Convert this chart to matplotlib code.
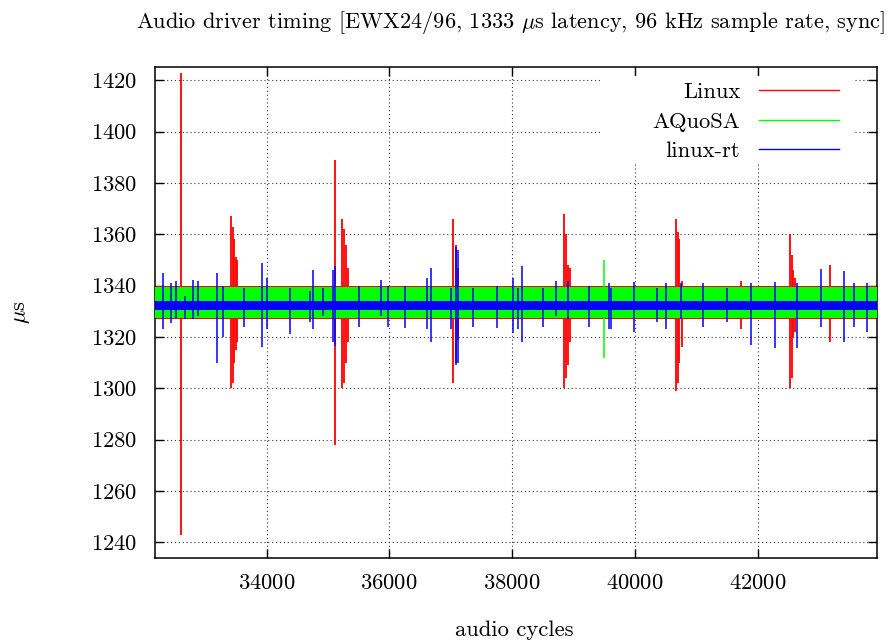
import matplotlib
matplotlib.use("Agg")
import matplotlib.pyplot as plt
from matplotlib.lines import Line2D
from matplotlib.patches import Rectangle

plt.rcParams['font.family'] = 'serif'
plt.rcParams['font.serif'] = ['cmr10', 'DejaVu Serif']
plt.rcParams['mathtext.fontset'] = 'cm'
plt.rcParams['axes.formatter.use_mathtext'] = True

# x range of the recording (audio cycles)
cycles = [32183, 43947]

# dense noise band of each trace (lower, upper), in microseconds
linux_band = [1327.2, 1339.9]
aquosa_band = [1327.6, 1339.5]
rt_band = [1330.7, 1334.0]

# isolated excursions: cycle, high, low
linux_x = [32607, 33422, 33446, 33471, 33503, 33520,
           35121, 35230, 35262, 35295, 35328,
           37043, 37087, 37120,
           38851, 38879, 38920, 38944,
           40671, 40703, 40728, 40769,
           41725,
           42528, 42557, 42585, 42609,
           43179]
linux_hi = [1423, 1367, 1363, 1358, 1351, 1350,
            1389, 1366, 1362, 1356, 1347,
            1366, 1356, 1347,
            1368, 1360, 1348, 1347,
            1366, 1361, 1358, 1342,
            1342,
            1360, 1352, 1346, 1343,
            1348]
linux_lo = [1243, 1300, 1302, 1310, 1315, 1318,
            1278, 1300, 1302, 1310, 1318,
            1302, 1310, 1319,
            1300, 1304, 1309, 1318,
            1299, 1302, 1310, 1316,
            1323,
            1300, 1304, 1320, 1322,
            1318]

aquosa_x = [39498]
aquosa_hi = [1350]
aquosa_lo = [1312]

rt_x = [32309, 32439, 32526, 32672, 32798, 32884, 33189, 33287, 33638,
        33932, 34013, 34383, 34709, 34762, 34915, 35078, 35116, 35512,
        35860, 35984, 36256, 36610, 36675, 37005, 37087, 37124, 37369,
        37750, 38020, 38092, 38167, 38509, 38716, 38916, 39254, 39584,
        39607, 39991, 40368, 40506, 40755, 41115, 41503, 41892, 42280,
        42640, 43028, 43404, 43570, 43792]
rt_hi = [1345, 1341, 1341.7, 1336, 1342.4, 1341.7, 1345, 1340, 1339,
         1349, 1343, 1339, 1338, 1346, 1339, 1346, 1347.5, 1340,
         1342.4, 1340, 1340, 1343, 1347, 1339, 1355, 1354, 1339,
         1340, 1343, 1339, 1347.8, 1339, 1342, 1342, 1340, 1341,
         1339, 1341.5, 1339, 1341, 1341, 1341, 1339, 1341, 1341.5,
         1341, 1346.4, 1345.7, 1341, 1341]
rt_lo = [1323, 1325.6, 1327.5, 1327, 1327, 1328, 1310, 1320, 1324,
         1316, 1323, 1321, 1326, 1323, 1328, 1318, 1316.4, 1324,
         1328, 1324, 1323.5, 1323, 1318, 1323, 1309, 1310, 1324,
         1323.4, 1321.7, 1323, 1318, 1324, 1328, 1327, 1324, 1323,
         1323, 1322, 1326, 1323, 1327, 1324, 1326, 1317, 1315.7,
         1315.7, 1324, 1318, 1324, 1322]

names = ['Linux', 'AQuoSA', 'linux-rt']
colors = ['#ff0000', '#00ff00', '#0000ff']
fs = 16.3

fig = plt.figure(figsize=(8.93, 6.41), dpi=100)
ax = fig.add_axes([155/893, 1-558/641, 722/893, 491/641])

ax.fill_between(cycles, linux_band[0], linux_band[1], color=colors[0], lw=0, zorder=2)
ax.vlines(linux_x, linux_lo, linux_hi, color=colors[0], lw=1.3, zorder=2)
ax.fill_between(cycles, aquosa_band[0], aquosa_band[1], color=colors[1], lw=0, zorder=3)
ax.vlines(aquosa_x, aquosa_lo, aquosa_hi, color=colors[1], lw=1.1, zorder=3)
ax.fill_between(cycles, rt_band[0], rt_band[1], color=colors[2], lw=0, zorder=4)
ax.vlines(rt_x, rt_lo, rt_hi, color=colors[2], lw=1.1, zorder=4)

ax.set_xlim(cycles[0], cycles[1])
ax.set_ylim(1233.9, 1425.2)
ax.set_xticks(range(34000, 42001, 2000))
ax.set_yticks(range(1240, 1421, 20))
ax.set_axisbelow(True)
ax.grid(True, color='0.2', lw=0.8, linestyle=(0, (1, 2.5)))
ax.tick_params(direction='in', length=6.5, width=1.0, top=True, right=True,
               labelsize=fs)
ax.tick_params(axis='y', pad=13)
ax.tick_params(axis='x', pad=11)
for s in ax.spines.values():
    s.set_linewidth(1.1)

# white key box hiding the grid
ax.add_patch(Rectangle((0.616, 0.8045), 0.3535, 0.177, transform=ax.transAxes,
                       fc='white', ec='none', zorder=1))

handles = [Line2D([], [], color=c, lw=1.0) for c in colors]
leg = ax.legend(handles, names, loc='upper right', bbox_to_anchor=(0.947, 0.969),
                frameon=False, markerfirst=False, fontsize=fs, handlelength=3.5,
                handletextpad=0.85, labelspacing=0.43, borderaxespad=0, borderpad=0)
# right-align the key texts like gnuplot
leg._legend_box._children[-1]._children[0].align = 'right'

fig.text(511/893, 1-22/641, r'Audio driver timing [EWX24/96, 1333 $\mu$s latency, 96 kHz sample rate, sync]',
         ha='center', va='center', fontsize=16.1)
fig.text(514/893, 1-630/641, 'audio cycles', ha='center', va='center', fontsize=fs)
fig.text(22/893, 1-312/641, r'$\mu$s', ha='center', va='center', rotation=90, fontsize=fs)

fig.savefig('out.png', dpi=100)
